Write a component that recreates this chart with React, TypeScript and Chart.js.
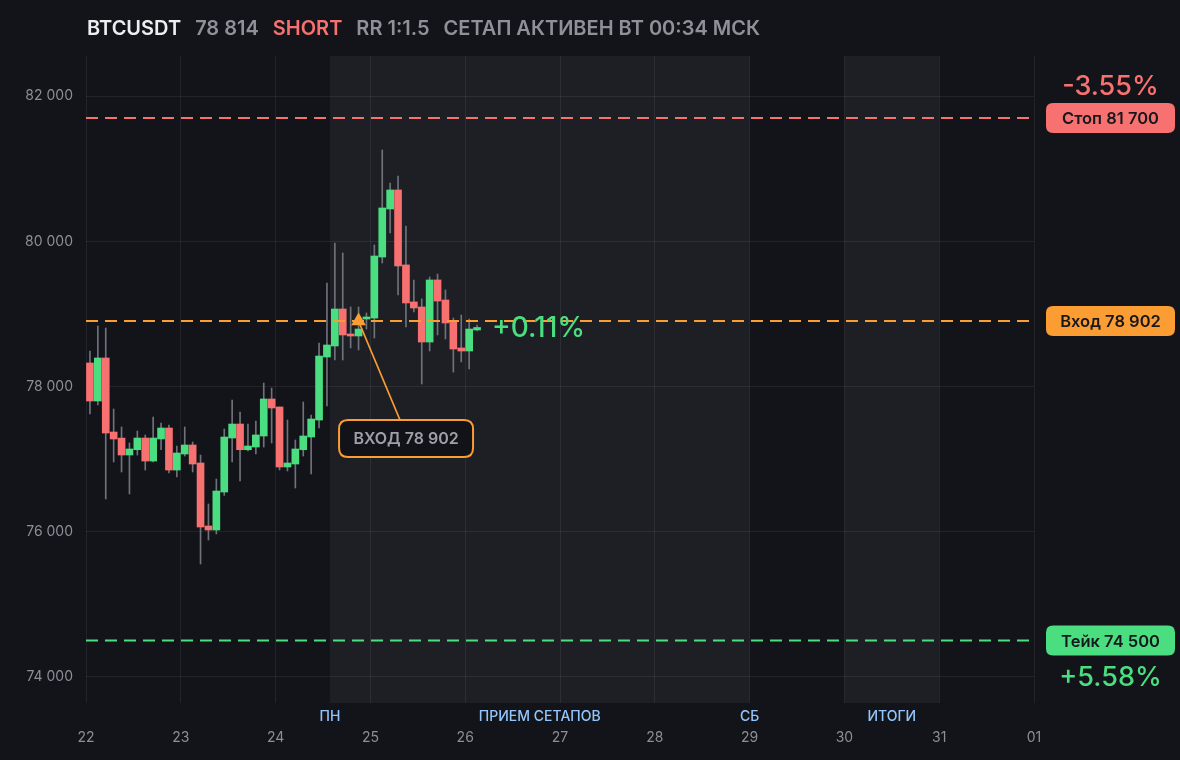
import React, { useEffect, useRef } from 'react';
import { Chart, registerables } from 'chart.js';

Chart.register(...registerables);

// ---------- data ----------
const SYMBOL = 'BTCUSDT';
const SIDE = 'SHORT';
const RR_TEXT = 'RR 1:1.5';
const STATUS_TEXT = 'СЕТАП АКТИВЕН ВТ 00:34 МСК';

const DAY_LABELS = ['22', '23', '24', '25', '26', '27', '28', '29', '30', '31', '01'];
const Y_TICKS = [74000, 76000, 78000, 80000, 82000];

// 2-hour candles starting 22, 00:00
const CANDLE_HOURS = 2;
const OPEN = [78325, 77801, 78394, 77374, 77290, 77057, 77130, 77291, 76974, 77278, 77429, 76850, 77071, 77195, 76947, 76079, 76024, 76547, 77291, 77484, 77130, 77167, 77319, 77829, 77719, 76892, 76933, 77130, 77305, 77539, 78407, 78559, 79069, 78725, 78697, 78931, 78944, 79785, 80447, 80709, 79676, 79166, 79097, 78614, 79469, 79193, 78890, 78532, 78490, 78780];
const HIGH = [78490, 78835, 78807, 77691, 77443, 77223, 77388, 77333, 77581, 77498, 77470, 77181, 77443, 77236, 77057, 76382, 76726, 77415, 77815, 77650, 77484, 77526, 78049, 77980, 77719, 77539, 77264, 77787, 77608, 78600, 79427, 79978, 79841, 79097, 79097, 79014, 79951, 81260, 80805, 80902, 80213, 79469, 79207, 79510, 79551, 79331, 78945, 78986, 78931, 78848];
const LOW = [77622, 77746, 76451, 76961, 76823, 76520, 77057, 76850, 76961, 77130, 76809, 76754, 77043, 76823, 75555, 75886, 75969, 76500, 76961, 76699, 77112, 77071, 77167, 77223, 76850, 76837, 76602, 77043, 76795, 77429, 77732, 78366, 78366, 78532, 78504, 78793, 78669, 79703, 80116, 79262, 78821, 79028, 78036, 78490, 78711, 78656, 78199, 78339, 78242, 78766];
const CLOSE = [77801, 78394, 77360, 77278, 77057, 77140, 77291, 76974, 77291, 77429, 76850, 77085, 77195, 76933, 76065, 76024, 76561, 77305, 77484, 77130, 77181, 77333, 77829, 77705, 76892, 76947, 77140, 77319, 77553, 78421, 78573, 79069, 78711, 78697, 78793, 78959, 79799, 80461, 80709, 79662, 79152, 79083, 78614, 79469, 79179, 78876, 78518, 78490, 78793, 78814];

const STOP = 81700;
const ENTRY = 78902;
const TAKE = 74500;
const LAST = 78814;
const ENTRY_HOUR = 69;

const X_MAX_HOURS = 240;
const Y_MIN = 73640;
const Y_MAX = 82555;

const BANDS: [number, number][] = [[61.75, 168], [192, 216]];
const EVENT_LABELS = ['ПН', 'ПРИЕМ СЕТАПОВ', 'СБ', 'ИТОГИ'];
const EVENT_HOURS = [61.75, 114.875, 168, 204];

// ---------- style ----------
const BG = '#131419';
const BAND = '#1e1f24';
const GRID = 'rgba(255,255,255,0.07)';
const TICK = '#8b8f98';
const GREEN = '#4ade80';
const RED = '#f87171';
const ORANGE = '#fb9d33';
const WICK = '#6e727b';
const EVENT_COLOR = '#93c5fd';
const FONT = 'Inter, "Noto Sans", sans-serif';

const fmt = (v: number) => String(Math.round(v)).replace(/\B(?=(\d{3})+(?!\d))/g, ' ');
const pct = (target: number) => {
  const p = ((ENTRY - target) / ENTRY) * 100; // short position
  return (p >= 0 ? '+' : '-') + Math.abs(p).toFixed(2) + '%';
};

function roundRect(ctx: CanvasRenderingContext2D, x: number, y: number, w: number, h: number, r: number) {
  ctx.beginPath();
  ctx.moveTo(x + r, y);
  ctx.lineTo(x + w - r, y);
  ctx.quadraticCurveTo(x + w, y, x + w, y + r);
  ctx.lineTo(x + w, y + h - r);
  ctx.quadraticCurveTo(x + w, y + h, x + w - r, y + h);
  ctx.lineTo(x + r, y + h);
  ctx.quadraticCurveTo(x, y + h, x, y + h - r);
  ctx.lineTo(x, y + r);
  ctx.quadraticCurveTo(x, y, x + r, y);
  ctx.closePath();
}

const overlayPlugin = {
  id: 'overlay',
  beforeDraw(chart: any) {
    const { ctx, chartArea } = chart;
    const xs = chart.scales.x;
    ctx.save();
    ctx.fillStyle = BG;
    ctx.fillRect(0, 0, chart.width, chart.height);
    ctx.fillStyle = BAND;
    BANDS.forEach(([a, b]) => {
      const x0 = xs.getPixelForValue(a);
      const x1 = xs.getPixelForValue(b);
      ctx.fillRect(x0, chartArea.top, x1 - x0, chartArea.bottom - chartArea.top);
    });
    ctx.restore();
  },
  afterDraw(chart: any) {
    const { ctx, chartArea } = chart;
    const xs = chart.scales.x;
    const ys = chart.scales.y;
    ctx.save();

    // event labels
    ctx.font = `500 14px ${FONT}`;
    ctx.fillStyle = EVENT_COLOR;
    ctx.textAlign = 'center';
    ctx.textBaseline = 'middle';
    EVENT_LABELS.forEach((t, i) => {
      ctx.fillText(t, xs.getPixelForValue(EVENT_HOURS[i]), chartArea.bottom + 14);
    });

    // right-hand pills
    const pill = (value: number, text: string, color: string) => {
      const y = ys.getPixelForValue(value);
      const x0 = chartArea.right + 12;
      const w = 129;
      const h = 30;
      ctx.fillStyle = color;
      roundRect(ctx, x0, y - h / 2, w, h, 7);
      ctx.fill();
      ctx.fillStyle = '#17181c';
      ctx.font = `600 16.5px ${FONT}`;
      ctx.textAlign = 'center';
      ctx.textBaseline = 'middle';
      ctx.fillText(text, x0 + w / 2, y + 1);
      return { cx: x0 + w / 2, y };
    };
    const s = pill(STOP, `Стоп ${fmt(STOP)}`, RED);
    pill(ENTRY, `Вход ${fmt(ENTRY)}`, ORANGE);
    const t = pill(TAKE, `Тейк ${fmt(TAKE)}`, GREEN);

    ctx.font = `500 27px ${FONT}`;
    ctx.textAlign = 'center';
    ctx.textBaseline = 'middle';
    ctx.fillStyle = RED;
    ctx.fillText(pct(STOP), s.cx, s.y - 31);
    ctx.fillStyle = GREEN;
    ctx.fillText(pct(TAKE), t.cx, t.y + 37);

    // current P&L next to last candle
    const lastHour = (CLOSE.length - 1) * CANDLE_HOURS + CANDLE_HOURS / 2;
    ctx.font = `500 28px ${FONT}`;
    ctx.textAlign = 'left';
    ctx.fillStyle = GREEN;
    ctx.fillText(pct(LAST), xs.getPixelForValue(lastHour) + 15, ys.getPixelForValue(LAST) + 1);

    // entry annotation
    const px = xs.getPixelForValue(ENTRY_HOUR);
    const py = ys.getPixelForValue(ENTRY);
    ctx.strokeStyle = ORANGE;
    ctx.lineWidth = 1.6;
    ctx.beginPath();
    ctx.moveTo(px, py);
    ctx.lineTo(px + 41.5, py + 99);
    ctx.stroke();

    const bw = 134;
    const bh = 37;
    const bx = px + 47.5 - bw / 2;
    const by = py + 99;
    roundRect(ctx, bx, by, bw, bh, 9);
    ctx.fillStyle = '#121318';
    ctx.fill();
    ctx.lineWidth = 2;
    ctx.strokeStyle = ORANGE;
    ctx.stroke();
    ctx.fillStyle = '#9ca0a8';
    ctx.font = `600 16px ${FONT}`;
    ctx.textAlign = 'center';
    ctx.textBaseline = 'middle';
    ctx.fillText(`ВХОД ${fmt(ENTRY)}`, bx + bw / 2, by + bh / 2 + 1);

    ctx.restore();
  },
};

export default function App() {
  const ref = useRef<HTMLCanvasElement>(null);

  useEffect(() => {
    if (!ref.current) return;
    const hours = OPEN.map((_, i) => i * CANDLE_HOURS + CANDLE_HOURS / 2);
    const bodies = hours.map((h, i) => ({ x: h, y: [OPEN[i], CLOSE[i]] }));
    const wicks = hours.map((h, i) => ({ x: h, y: [LOW[i], HIGH[i]] }));
    const level = (v: number) => [{ x: 0, y: v }, { x: X_MAX_HOURS, y: v }];

    const chart = new Chart(ref.current, {
      type: 'bar',
      data: {
        datasets: [
          {
            type: 'line',
            data: [{ x: ENTRY_HOUR, y: ENTRY }],
            showLine: false,
            pointStyle: 'triangle',
            pointRadius: 8.5,
            pointBackgroundColor: ORANGE,
            pointBorderColor: ORANGE,
            pointBorderWidth: 0,
            order: 0,
          } as any,
          { type: 'line', data: level(STOP), borderColor: RED, borderWidth: 2, borderDash: [12, 7], pointRadius: 0, order: 1 } as any,
          { type: 'line', data: level(ENTRY), borderColor: ORANGE, borderWidth: 2, borderDash: [12, 7], pointRadius: 0, order: 1 } as any,
          { type: 'line', data: level(TAKE), borderColor: GREEN, borderWidth: 2, borderDash: [12, 7], pointRadius: 0, order: 1 } as any,
          {
            type: 'bar',
            data: bodies,
            barThickness: 7,
            minBarLength: 2,
            grouped: false,
            borderWidth: 0,
            borderSkipped: false,
            backgroundColor: (c: any) => (CLOSE[c.dataIndex] >= OPEN[c.dataIndex] ? GREEN : RED),
            order: 2,
          } as any,
          {
            type: 'bar',
            data: wicks,
            barThickness: 1,
            grouped: false,
            borderWidth: 0,
            backgroundColor: WICK,
            order: 3,
          } as any,
        ],
      },
      options: {
        responsive: false,
        animation: false,
        events: [],
        layout: { padding: { top: 56, right: 146, left: 0, bottom: 0 } },
        plugins: { legend: { display: false }, tooltip: { enabled: false } },
        scales: {
          x: {
            type: 'linear',
            min: 0,
            max: X_MAX_HOURS,
            offset: false,
            grid: { color: GRID, drawTicks: false, offset: false },
            border: { display: false },
            ticks: {
              color: TICK,
              font: { family: FONT, size: 14 },
              padding: 26,
              maxRotation: 0,
              autoSkip: false,
              callback: (v: any) => DAY_LABELS[Math.round(Number(v) / 24)] ?? '',
            },
            afterBuildTicks: (s: any) => {
              s.ticks = DAY_LABELS.map((_, i) => ({ value: i * 24 }));
            },
            afterFit: (s: any) => {
              s.height = 57;
            },
          },
          y: {
            type: 'linear',
            min: Y_MIN,
            max: Y_MAX,
            grid: { color: GRID, drawTicks: false },
            border: { display: false },
            ticks: {
              color: TICK,
              font: { family: FONT, size: 14 },
              padding: 13,
              callback: (v: any) => fmt(Number(v)),
            },
            afterBuildTicks: (s: any) => {
              s.ticks = Y_TICKS.map((v) => ({ value: v }));
            },
            afterFit: (s: any) => {
              s.width = 86;
            },
          },
        },
      } as any,
      plugins: [overlayPlugin],
    });
    return () => chart.destroy();
  }, []);

  const gray = '#8e9199';
  return (
    <div style={{ position: 'fixed', inset: 0, background: BG, overflow: 'hidden' }}>
      <canvas ref={ref} width={1180} height={760} style={{ position: 'absolute', left: 0, top: 0, width: 1180, height: 760 }} />
      <div
        style={{
          position: 'absolute',
          left: 87,
          top: 15,
          display: 'flex',
          gap: 14,
          whiteSpace: 'nowrap',
          font: `600 20px ${FONT}`,
          lineHeight: '26px',
        }}
      >
        <span style={{ color: '#eceef1' }}>{SYMBOL}</span>
        <span style={{ color: gray }}>{fmt(LAST)}</span>
        <span style={{ color: RED }}>{SIDE}</span>
        <span style={{ color: gray }}>{RR_TEXT}</span>
        <span style={{ color: gray }}>{STATUS_TEXT}</span>
      </div>
    </div>
  );
}
